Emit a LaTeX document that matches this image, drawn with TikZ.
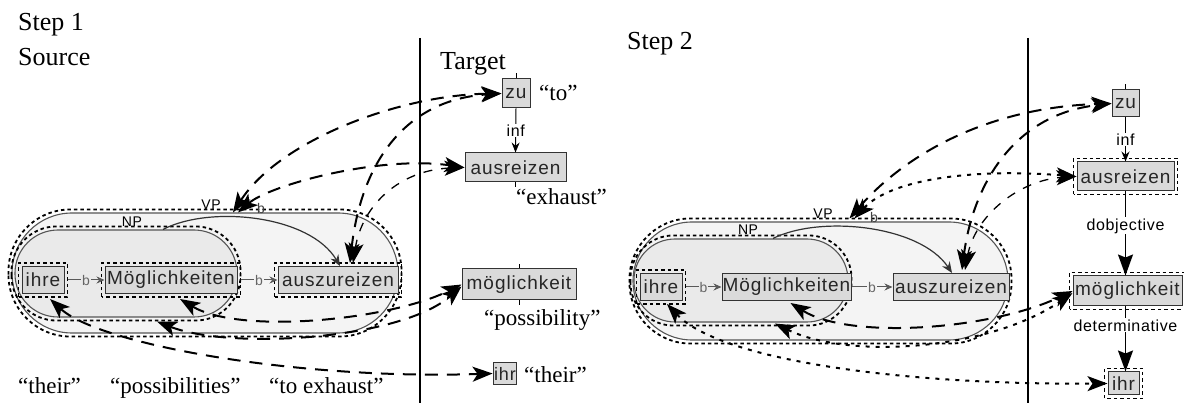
\documentclass[tikz,border=0pt]{standalone}
\usepackage{fontspec}
\setmainfont{Liberation Serif}
\newfontfamily\boxfont{Liberation Sans}[LetterSpace=5.0]
\newfontfamily\lblfont{Liberation Sans}[LetterSpace=4.0]
\usetikzlibrary{arrows.meta}
\definecolor{boxgray}{HTML}{DADADA}
\definecolor{vpfill}{HTML}{F4F4F4}
\definecolor{npfill}{HTML}{EAEAEA}
\definecolor{pillline}{HTML}{555555}
\newcommand\myhalo[1]{\draw[halo] ([shift={(-3pt,-3pt)}]#1.south west) rectangle ([shift={(3pt,3pt)}]#1.north east);}
\newcommand\mypillhalo[2]{\draw[halo, rounded corners=#2] ([shift={(-3pt,-3pt)}]#1.south west) rectangle ([shift={(3pt,3pt)}]#1.north east);}
\tikzset{
  box/.style={draw=black!80, line width=1pt, fill=boxgray, inner sep=0pt, minimum height=27pt,
    font=\boxfont\fontsize{19}{20}\selectfont, text=black!85},
  halo/.style={draw=black, line width=1.8pt, dash pattern=on 3.5pt off 3pt},
  pill/.style={draw=pillline, line width=1.1pt},
  lbl/.style={font=\lblfont\fontsize{16}{18}\selectfont, inner sep=1pt},
  small/.style={font=\lblfont\fontsize{14}{16}\selectfont, inner sep=0pt},
  quote/.style={font=\fontsize{23}{26}\selectfont, inner sep=0pt},
  head/.style={font=\fontsize{26}{30}\selectfont, inner sep=0pt},
  bedge/.style={draw=black!65, line width=1pt, -{Stealth[length=8pt,width=7pt]}},
  curveedge/.style={draw=black!80, line width=1.2pt, -{Stealth[length=11pt,width=9pt]}},
  bigtips/.style={{Stealth[length=20pt,width=15pt,inset=5pt]}-{Stealth[length=20pt,width=15pt,inset=5pt]}},
  align/.style={line width=2pt, dash pattern=on 13pt off 9pt, bigtips},
  alignthin/.style={line width=1.3pt, dash pattern=on 9pt off 9pt, bigtips},
  aligndot/.style={line width=2pt, dash pattern=on 4pt off 6pt, bigtips},
  tedge/.style={draw=black, line width=1pt, -{Stealth[length=10pt,width=8pt]}},
  tedgebig/.style={draw=black, line width=1.6pt, -{Stealth[length=21pt,width=15pt,inset=3pt]}},
  sep/.style={line width=2.2pt},
}
\begin{document}
\begin{tikzpicture}[x=1pt,y=-1pt]
\useasboundingbox (0,0) rectangle (1184,403);

% ---------------- headings ----------------
\node[head, anchor=base west] (s1) at (18,31) {Step 1};
\node[head, anchor=base west] (src) at (18,66) {Source};
\node[head, anchor=base west] (tgt) at (440,70) {Target};
\node[head, anchor=base west] (s2) at (627,50) {Step 2};
\draw[sep] (420,38) -- (420,403);
\draw[sep] (1028,38) -- (1028,403);

% ---------------- Step 1 source ----------------
\node[pill, fill=vpfill, rounded corners=60pt, minimum width=386pt, minimum height=120pt] (VP1) at (205,273) {};
\node[pill, fill=npfill, rounded corners=43pt, minimum width=222pt, minimum height=87pt] (NP1) at (126,273.5) {};
\mypillhalo{VP1}{62pt}
\mypillhalo{NP1}{45pt}
\node[small] (vpl1) at (211,205) {VP};
\node[small] (npl1) at (132,222) {NP};
\node[small, text=black!75] (vpb1) at (261,208) {b};

\node[box, minimum width=42pt] (ihre1) at (43,280) {ihre};
\node[box, minimum width=132pt] (mog1) at (171,280) {Möglichkeiten};
\node[box, minimum width=120pt] (ausz1) at (338,280) {auszureizen};
\myhalo{ihre1}
\myhalo{mog1}
\myhalo{ausz1}
\draw[bedge] ([xshift=3pt]ihre1.east) -- node[small, text=black!60, fill=npfill, inner xsep=1pt] {b} (mog1.west);
\draw[bedge] ([xshift=3pt]mog1.east) -- node[small, text=black!60, fill=vpfill, inner xsep=1pt] {b} (ausz1.west);
\draw[curveedge] ([xshift=37pt]NP1.north) .. controls (210,205) and (310,215) .. ([xshift=2pt]ausz1.north);

% ---------------- Step 1 target ----------------
\node[box, minimum width=28pt, minimum height=29pt] (zu1) at (516,93.5) {zu};
\node[box, minimum width=101pt, minimum height=29pt] (ausr1) at (515.5,167.5) {ausreizen};
\node[box, minimum width=114pt, minimum height=31pt] (moeg1) at (519,284.5) {möglichkeit};
\node[box, minimum width=19pt, minimum height=22pt, inner xsep=1pt, font=\boxfont\fontsize{18}{20}\selectfont] (ihr1) at (505,373.5) {ihr};
\draw[tedge] (zu1.south) -- node[lbl, fill=white, pos=0.5] {inf} (ausr1.north);
\draw (zu1.north) -- ++(0,-5);
\draw (ausr1.south) -- ++(0,5);
\draw (moeg1.north) -- ++(0,-4);
\draw (moeg1.south) -- ++(0,5);

\node[quote, anchor=base west] (qto) at (539,101) {“to”};
\node[quote, anchor=base west] (qexh) at (516,205) {“exhaust”};
\node[quote, anchor=base west] (qposs) at (484,326) {“possibility”};
\node[quote, anchor=base west] (qtheir) at (524,382) {“their”};
\node[quote, anchor=base west] (bth) at (18,394) {“their”};
\node[quote, anchor=base west] (bpo) at (110,394) {“possibilities”};
\node[quote, anchor=base west] (bex) at (269,394) {“to exhaust”};

% ---------------- Step 1 alignments ----------------
\draw[align] ([xshift=28pt]VP1.north) .. controls (280,140) and (400,95) .. (zu1.west);
\draw[align] ([xshift=33pt]VP1.north) .. controls (270,185) and (380,155) .. (ausr1.west);
\draw[align] ([xshift=12pt,yshift=3pt]ausz1.north) .. controls (360,170) and (400,100) .. (zu1.west);
\draw[alignthin] ([xshift=15pt,yshift=3pt]ausz1.north) .. controls (362,205) and (400,170) .. (ausr1.west);
\draw[align] ([xshift=9pt,yshift=-5pt]mog1.south) .. controls (240,335) and (390,320) .. (moeg1.west);
\draw[align] ([xshift=31pt,yshift=-4pt]NP1.south) .. controls (230,350) and (400,340) .. ([yshift=-2pt]moeg1.west);
\draw[align] ([xshift=7pt,yshift=-5pt]ihre1.south) .. controls (100,345) and (300,380) .. (ihr1.west);

% ---------------- Step 2 source ----------------
\node[pill, fill=vpfill, rounded corners=59pt, minimum width=375pt, minimum height=118pt] (VP2) at (820.5,281) {};
\node[pill, fill=npfill, rounded corners=41pt, minimum width=214pt, minimum height=83pt] (NP2) at (741,280.5) {};
\mypillhalo{VP2}{61pt}
\mypillhalo{NP2}{43pt}
\node[small] (vpl2) at (823,214) {VP};
\node[small] (npl2) at (748,230) {NP};
\node[small, text=black!75] (vpb2) at (874,217) {b};

\node[box, minimum width=42pt] (ihre2) at (661,287) {ihre};
\node[box, minimum width=129pt] (mog2) at (786.5,287) {Möglichkeiten};
\node[box, minimum width=116pt] (ausz2) at (951,287) {auszureizen};
\myhalo{ihre2}
\draw[bedge] ([xshift=3pt]ihre2.east) -- node[small, text=black!60, fill=npfill, inner xsep=1pt] {b} (mog2.west);
\draw[bedge] (mog2.east) -- node[small, text=black!60, fill=vpfill, inner xsep=1pt] {b} (ausz2.west);
\draw[curveedge] ([xshift=32pt]NP2.north) .. controls (820,215) and (920,225) .. ([xshift=1pt]ausz2.north);

% ---------------- Step 2 target ----------------
\node[box, minimum width=27pt, minimum height=27pt] (zu2) at (1125.5,103.5) {zu};
\node[box, minimum width=97pt, minimum height=29pt] (ausr2) at (1125.5,176.5) {ausreizen};
\node[box, minimum width=109pt, minimum height=30pt] (moeg2) at (1127.5,291) {möglichkeit};
\node[box, minimum width=31pt, minimum height=23pt] (ihr2) at (1123.5,383.5) {ihr};
\myhalo{ausr2}
\myhalo{moeg2}
\myhalo{ihr2}
\draw (zu2.north) -- ++(0,-5);
\draw[tedge] (zu2.south) -- node[lbl, fill=white, pos=0.5] {inf} (ausr2.north);
\draw[tedgebig] (ausr2.south) -- node[lbl, fill=white, pos=0.41] {dobjective} (ausr2.south |- moeg2.north);
\draw[tedgebig] (ausr2.south |- moeg2.south) -- node[lbl, fill=white, pos=0.29] {determinative} (ausr2.south |- ihr2.north);

% ---------------- Step 2 alignments ----------------
\draw[align] ([xshift=29pt,yshift=3pt]VP2.north) .. controls (900,160) and (980,108) .. (zu2.west);
\draw[aligndot] ([xshift=34pt,yshift=3pt]VP2.north) .. controls (890,180) and (970,168) .. (ausr2.west);
\draw[align] ([xshift=11pt,yshift=3pt]ausz2.north) .. controls (972,190) and (1010,115) .. (zu2.west);
\draw[alignthin] ([xshift=14pt,yshift=3pt]ausz2.north) .. controls (975,215) and (1020,180) .. (ausr2.west);
\draw[align] ([xshift=4pt,yshift=-2pt]mog2.south) .. controls (850,340) and (990,330) .. (moeg2.west);
\draw[aligndot] ([xshift=34pt,yshift=-1pt]NP2.south) .. controls (850,360) and (990,350) .. ([yshift=-2pt]moeg2.west);
\draw[aligndot] ([xshift=6pt,yshift=-3pt]ihre2.south) .. controls (720,360) and (900,385) .. (ihr2.west);
\end{tikzpicture}
\end{document}
